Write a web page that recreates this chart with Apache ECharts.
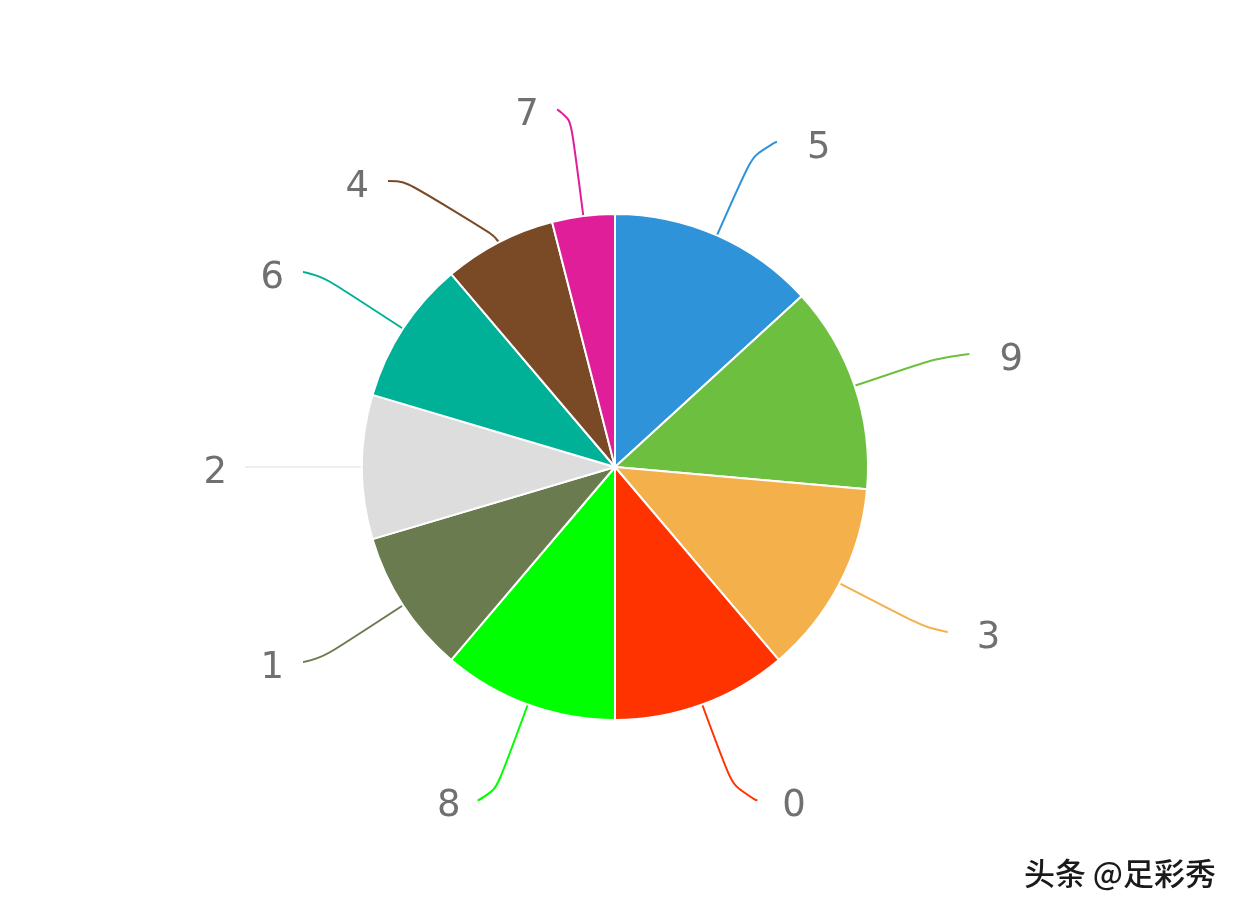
<!DOCTYPE html>
<html>
<head>
<meta charset="utf-8">
<script src="https://cdn.jsdelivr.net/npm/echarts@6/dist/echarts.min.js"></script>
<style>
html,body{margin:0;padding:0;background:#fff;}
#chart{width:1242px;height:921px;}
</style>
</head>
<body>
<div id="chart"></div>
<script>
const categories = ['5', '9', '3', '0', '8', '1', '2', '6', '4', '7'];
const counts = [33, 33, 31, 28, 28, 23, 23, 23, 18, 10];
const sliceColors = ['#2e93d9', '#6dbf3f', '#f4b04a', '#ff3300', '#00ff00', '#6b7b50', '#dddddd', '#00b097', '#7a4a26', '#e01e99'];
const lineColors = ['#2e93d9', '#6dbf3f', '#f4b04a', '#ff3300', '#00ff00', '#6b7b50', '#eeeeee', '#00b097', '#7a4a26', '#e01e99'];
const watermark = '头条 @足彩秀';

// per-slice leader line geometry (radial length, horizontal length)
const leadLen = [102, 99, 106, 102, 102, 104, 100, 104, 69, 107];
const leadLen2 = [19, 21, 14, 20, 15, 13, 17, 13, 79, 13];
const labelGap = [30, 30, 29, 25, 17, 19, 18, 19, 19, 18];

const chart = echarts.init(document.getElementById('chart'));
chart.setOption({
  animation: false,
  backgroundColor: '#ffffff',
  series: [{
    type: 'pie',
    center: [615, 467],
    radius: [0, 253],
    startAngle: 90,
    clockwise: true,
    avoidLabelOverlap: false,
    data: categories.map((c, i) => ({
      name: c,
      value: counts[i],
      itemStyle: { color: sliceColors[i] },
      label: { distanceToLabelLine: labelGap[i] },
      labelLine: {
        length: leadLen[i],
        length2: leadLen2[i],
        lineStyle: { color: lineColors[i] }
      }
    })),
    itemStyle: { borderColor: '#ffffff', borderWidth: 2 },
    label: {
      show: true,
      position: 'outside',
      formatter: '{s|}\n{t|{b}}',
      rich: {
        s: { height: 12, lineHeight: 12, fontSize: 10 },
        t: { fontFamily: 'DejaVu Sans', fontSize: 37, lineHeight: 44, color: '#707070' }
      }
    },
    labelLine: {
      show: true,
      smooth: 0.9,
      lineStyle: { width: 2 }
    }
  }],
  graphic: [{
    type: 'text',
    right: 26,
    top: 858,
    style: {
      text: watermark,
      font: '500 31px "Noto Sans CJK SC"',
      fill: '#1a1a1a'
    }
  }]
});
</script>
</body>
</html>
